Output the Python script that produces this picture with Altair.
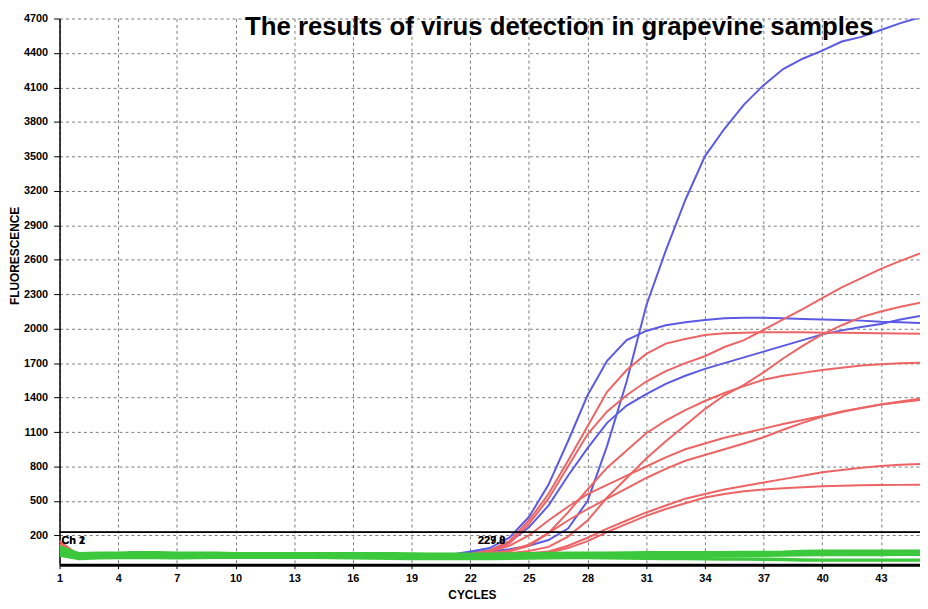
import altair as alt
import pandas as pd

# ---------------- data ----------------
cycles = list(range(1, 46))
x_ticks = list(range(1, 44, 3))
y_ticks = list(range(200, 4701, 300))

# baseline part, cycles 1..21
base_red_a = [150, 20, 30, 45, 50, 48, 40, 40, 45, 45, 44, 44, 44, 44, 44, 42, 38, 35, 32, 30, 30]
base_red_b = [120, 10, 25, 35, 40, 38, 30, 32, 36, 38, 40, 40, 40, 40, 40, 38, 34, 30, 28, 26, 26]
base_blue = [90, 15, 30, 40, 55, 40, 35, 35, 40, 40, 40, 40, 40, 38, 36, 35, 34, 32, 30, 30, 32]

# amplification part, cycles 22..45
blue_1 = [50, 60, 80, 110, 160, 260, 500, 980, 1540, 2200, 2680, 3120, 3500, 3740, 3950, 4120, 4260, 4350, 4420, 4500, 4540, 4600, 4660, 4710]
blue_2 = [60, 90, 180, 360, 640, 1020, 1420, 1720, 1900, 1980, 2030, 2055, 2075, 2090, 2095, 2095, 2090, 2085, 2080, 2075, 2070, 2060, 2055, 2050]
blue_3 = [50, 70, 140, 270, 460, 720, 960, 1180, 1330, 1430, 1520, 1590, 1650, 1700, 1750, 1800, 1850, 1900, 1950, 1985, 2015, 2040, 2080, 2110]

red_1 = [40, 70, 150, 330, 560, 850, 1150, 1450, 1640, 1780, 1870, 1910, 1945, 1960, 1965, 1968, 1968, 1968, 1965, 1965, 1962, 1960, 1958, 1955]
red_2 = [35, 55, 130, 300, 520, 800, 1080, 1280, 1420, 1540, 1630, 1700, 1760, 1840, 1900, 1990, 2080, 2170, 2265, 2360, 2440, 2520, 2590, 2655]
red_3 = [30, 35, 45, 65, 100, 190, 330, 530, 700, 870, 1020, 1160, 1300, 1420, 1510, 1620, 1740, 1850, 1950, 2030, 2100, 2150, 2190, 2225]
red_4 = [35, 40, 60, 110, 220, 400, 600, 790, 940, 1090, 1200, 1290, 1370, 1440, 1500, 1555, 1590, 1615, 1640, 1660, 1680, 1690, 1698, 1704]
red_5 = [40, 60, 110, 200, 330, 450, 560, 640, 720, 800, 880, 950, 1000, 1050, 1090, 1130, 1170, 1205, 1240, 1280, 1310, 1340, 1365, 1390]
red_6 = [35, 45, 70, 120, 220, 330, 430, 520, 610, 700, 780, 850, 900, 950, 1000, 1055, 1120, 1180, 1235, 1275, 1310, 1340, 1360, 1380]
red_7 = [30, 30, 35, 45, 60, 110, 180, 260, 330, 400, 460, 520, 560, 600, 630, 660, 690, 720, 750, 770, 790, 805, 815, 822]
red_8 = [30, 30, 32, 40, 50, 90, 150, 230, 300, 370, 430, 480, 530, 560, 585, 600, 610, 620, 628, 632, 636, 638, 640, 641]

# negative samples (full 45 cycles)
green_1 = [100, 40, 45, 45, 50, 50, 45, 45, 45, 40, 40, 40, 40, 40, 40, 40, 40, 40, 38, 36, 36, 36, 36, 38, 40, 42, 44, 46, 46, 48, 50, 50, 50, 50, 50, 52, 52, 54, 60, 62, 62, 62, 62, 62, 62]
green_2 = [70, 25, 30, 35, 35, 30, 30, 32, 34, 36, 36, 36, 36, 36, 34, 32, 30, 28, 26, 24, 24, 24, 24, 26, 28, 30, 32, 34, 36, 38, 38, 40, 40, 40, 40, 42, 42, 44, 46, 48, 48, 50, 50, 50, 50]
green_3 = [50, 10, 15, 20, 25, 20, 18, 20, 22, 24, 24, 24, 24, 24, 22, 20, 18, 16, 14, 12, 12, 12, 12, 14, 16, 18, 20, 20, 22, 24, 24, 26, 26, 26, 26, 28, 28, 30, 32, 34, 34, 34, 34, 36, 36]
green_4 = [30, 0, 5, 8, 10, 8, 6, 8, 10, 10, 10, 10, 10, 10, 8, 6, 4, 2, 0, 0, 0, 0, 0, 2, 4, 6, 8, 8, 6, 4, 2, 0, -2, -4, -6, -6, -8, -10, -14, -15, -15, -15, -15, -15, -15]

thresholds = [229.8, 227.0]
threshold_names = ["Ch 1", "Ch 2"]
threshold_texts = ["229.8", "227.0"]
title_text = "The results of virus detection in grapevine samples"

# ---------------- tables ----------------
series = [
    ("B1", "blue", base_blue + blue_1),
    ("B2", "blue", base_blue + blue_2),
    ("B3", "blue", base_blue + blue_3),
    ("R1", "red", base_red_a + red_1),
    ("R2", "red", base_red_b + red_2),
    ("R3", "red", base_red_a + red_3),
    ("R4", "red", base_red_b + red_4),
    ("R5", "red", base_red_a + red_5),
    ("R6", "red", base_red_b + red_6),
    ("R7", "red", base_red_a + red_7),
    ("R8", "red", base_red_b + red_8),
    ("G1", "green", green_1),
    ("G2", "green", green_2),
    ("G3", "green", green_3),
    ("G4", "green", green_4),
]
rows = []
for name, group, vals in series:
    for c, v in zip(cycles, vals):
        rows.append({"series": name, "group": group, "cycle": c, "value": v})
df = pd.DataFrame(rows)

thr_df = pd.DataFrame({"value": thresholds})
lab_df = pd.DataFrame({
    "cycle": [1.1, 1.1, 22.4, 22.4],
    "value": [thresholds[0], thresholds[1], thresholds[0], thresholds[1]],
    "label": threshold_names + threshold_texts,
})
title_df = pd.DataFrame({"t": [title_text]})

LF = "Liberation Sans, Arial, sans-serif"
color_scale = alt.Scale(domain=["blue", "red", "green"], range=["#5A5AE6", "#EE6464", "#3CC83C"])

x_enc = alt.X("cycle:Q", scale=alt.Scale(domain=[1, 45], nice=False, zero=False),
              axis=alt.Axis(values=x_ticks, tickCount=40, title="CYCLES", format="d", domainWidth=3,
                            tickSize=4, labelPadding=4, titleX=416, titleY=34, titleAlign="center",
                            titleBaseline="alphabetic", labelFlush=False, labelOverlap=False))
y_enc = alt.Y("value:Q", scale=alt.Scale(domain=[-55, 4700], nice=False, zero=False),
              axis=alt.Axis(values=y_ticks, tickCount=40, title="FLUORESCENCE", format="d",
                            domainWidth=1.5, tickSize=6, labelPadding=6, titleX=-45, titleY=239,
                            titleAngle=270, titleAlign="center", titleBaseline="middle",
                            labelFlush=False, labelOverlap=False))

def lines(group, width):
    return alt.Chart(df).transform_filter(alt.datum.group == group).mark_line(
        strokeWidth=width, clip=True
    ).encode(
        x=alt.X("cycle:Q"), y=alt.Y("value:Q"),
        color=alt.Color("group:N", scale=color_scale, legend=None),
        detail="series:N",
    )

blue = alt.Chart(df).transform_filter(alt.datum.group == "blue").mark_line(
    strokeWidth=2, clip=True).encode(
    x=x_enc, y=y_enc,
    color=alt.Color("group:N", scale=color_scale, legend=None),
    detail="series:N")
red = lines("red", 2)
green = lines("green", 3.5)

rules = alt.Chart(thr_df).mark_rule(color="black", strokeWidth=1.3).encode(y="value:Q")
labels = alt.Chart(lab_df).mark_text(align="left", baseline="top", dy=3, font=LF,
                                     fontWeight="bold", fontSize=11, color="black").encode(
    x="cycle:Q", y="value:Q", text="label:N")
title = alt.Chart(title_df).mark_text(align="left", baseline="alphabetic",
                                      font="Liberation Sans, Arial, sans-serif",
                                      fontWeight="bold", fontSize=26, color="black").encode(
    x=alt.value(187), y=alt.value(17), text="t:N")

chart = alt.layer(blue, red, green, rules, labels, title).properties(
    width=868, height=551,
    autosize=alt.AutoSizeParams(type="none"),
    padding={"left": 52, "top": 8, "right": 0, "bottom": 34},
).configure_axis(
    labelFont=LF, labelFontWeight="bold", labelFontSize=11, labelColor="black",
    titleFont=LF, titleFontWeight="bold", titleFontSize=12,
    titleColor="black", gridColor="#7a7a7a", gridDash=[3, 3], gridWidth=1,
    domainColor="black", tickColor="black",
).configure_view(stroke=None)

chart.save("out.html", embed_options={"renderer": "svg", "actions": False})
